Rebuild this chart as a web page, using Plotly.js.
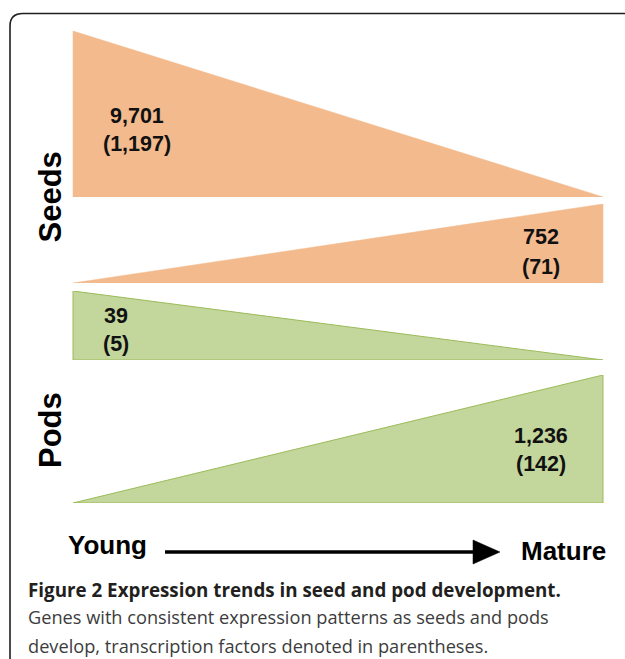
<!DOCTYPE html>
<html>
<head>
<meta charset="utf-8">
<script src="https://cdn.plot.ly/plotly-3.0.1.min.js"></script>
<style>
  html, body { margin: 0; padding: 0; background: #ffffff; }
  #chart { width: 625px; height: 659px; }
</style>
</head>
<body>
<div id="chart"></div>
<script>
// ---------------- DATA ----------------
const tissues     = ['Seeds', 'Seeds', 'Pods', 'Pods'];
const trends      = ['decreasing', 'increasing', 'decreasing', 'increasing'];
const geneCounts  = [9701, 752, 39, 1236];
const tfCounts    = [1197, 71, 5, 142];
const stages      = ['Young', 'Mature'];          // x: 0 = Young, 1 = Mature
const levelYoung  = [1, 0, 1, 0];                  // relative expression at Young
const levelMature = [0, 1, 0, 1];                  // relative expression at Mature
const tissueNames = ['Seeds', 'Pods'];
const captionTitle = 'Figure 2 Expression trends in seed and pod development.';
const captionLines = ['Genes with consistent expression patterns as seeds and pods',
                      'develop, transcription factors denoted in parentheses.'];

// ---------------- LAYOUT / STYLE ----------------
const W = 625, H = 659;
const px = x => x / W;            // pixel -> paper
const py = y => 1 - y / H;
// panel vertical extents (pixels: top, bottom)
const panelTop    = [31, 204, 291, 375];
const panelBottom = [197, 283, 360, 503];
const tissueStyle = {
  Seeds: { fill: '#F2BA8D', line: '#F2BA8D', lw: 0.5 },
  Pods:  { fill: '#C3D69B', line: '#9BBB59', lw: 1 }
};
// x axis: stage 0 at pixel 73, stage 1 at pixel 603
const x0px = 73, x1px = 603;
const span = x1px - x0px;
const xRange = [(0 - x0px) / span, (W - x0px) / span];

const traces = [];
const layout = {
  width: W, height: H,
  margin: { l: 0, r: 0, t: 0, b: 0, pad: 0 },
  paper_bgcolor: '#ffffff', plot_bgcolor: 'rgba(0,0,0,0)',
  showlegend: false,
  xaxis: { range: xRange, visible: false, fixedrange: true },
  annotations: [],
  shapes: []
};

for (let i = 0; i < geneCounts.length; i++) {
  const ax = 'yaxis' + (i === 0 ? '' : (i + 1) + '');
  const ref = 'y' + (i === 0 ? '' : (i + 1));
  layout[ax] = {
    range: [0, 1], visible: false, fixedrange: true, anchor: 'x',
    domain: [py(panelBottom[i]), py(panelTop[i])]
  };
  const st = tissueStyle[tissues[i]];
  traces.push({
    type: 'scatter', mode: 'lines',
    x: [0, 1, 1, 0, 0],
    y: [0, 0, levelMature[i], levelYoung[i], 0],
    xaxis: 'x', yaxis: ref,
    fill: 'toself', fillcolor: st.fill,
    line: { color: st.line, width: st.lw },
    hoverinfo: 'skip',
    name: tissues[i] + ' ' + trends[i]
  });
}
// pixel-space overlay axes for decorations
layout.xaxis2 = { range: [0, W], visible: false, fixedrange: true, anchor: 'y5', domain: [0, 1] };
layout.yaxis5 = { range: [H, 0], visible: false, fixedrange: true, anchor: 'x2', domain: [0, 1] };

// label positions (pixels: centre x, gene line y, tf line y)
const labelX  = [137, 540.5, 116, 541];
const labelY1 = [116, 237, 315.5, 435.5];
const labelY2 = [144, 267, 344, 463.5];
const numFont = { family: 'Liberation Sans, Arial, sans-serif', size: 21.5, color: '#111111' };
for (let i = 0; i < geneCounts.length; i++) {
  const t = (labelX[i] - x0px) / span;
  layout.annotations.push({
    xref: 'x', yref: 'paper', x: t, y: py(labelY1[i]),
    text: '<b>' + geneCounts[i].toLocaleString('en-US') + '</b>',
    showarrow: false, xanchor: 'center', yanchor: 'middle', font: numFont
  });
  layout.annotations.push({
    xref: 'x', yref: 'paper', x: t, y: py(labelY2[i]),
    text: '<b>(' + tfCounts[i].toLocaleString('en-US') + ')</b>',
    showarrow: false, xanchor: 'center', yanchor: 'middle', font: numFont
  });
}

// tissue labels (rotated)
const tissueLabelY = [197.5, 430];
const tissueFont = { family: 'Liberation Sans, Arial, sans-serif', size: 31, color: '#000000' };
tissueNames.forEach((nm, k) => {
  layout.annotations.push({
    xref: 'paper', yref: 'paper', x: px(50), y: py(tissueLabelY[k]),
    text: '<b>' + nm + '</b>', textangle: -90,
    showarrow: false, xanchor: 'center', yanchor: 'middle', font: tissueFont
  });
});

// stage labels
const stageFont = { family: 'Liberation Sans, Arial, sans-serif', size: 26, color: '#000000' };
layout.annotations.push({
  xref: 'paper', yref: 'paper', x: px(66), y: py(545),
  text: '<b>' + stages[0] + '</b>', showarrow: false, xanchor: 'left', yanchor: 'middle', font: stageFont
});
layout.annotations.push({
  xref: 'paper', yref: 'paper', x: px(519), y: py(550.5),
  text: '<b>' + stages[1] + '</b>', showarrow: false, xanchor: 'left', yanchor: 'middle', font: stageFont
});

// arrow
layout.shapes.push({
  type: 'line', xref: 'x2', yref: 'y5', x0: 165, x1: 476, y0: 552, y1: 552,
  line: { color: '#000000', width: 3.5 }
});
layout.shapes.push({
  type: 'path', xref: 'x2', yref: 'y5',
  path: 'M 473 540 L 500 552 L 473 564 Z',
  fillcolor: '#000000', line: { color: '#000000', width: 0.5 }
});

// frame (top + left border with rounded corner)
layout.shapes.push({
  type: 'path', xref: 'x2', yref: 'y5',
  path: 'M 10 665 L 10 26 Q 10 13.5 23 13.5 L 630 13.5',
  line: { color: '#231F20', width: 1.6 }
});

// caption
layout.annotations.push({
  xref: 'paper', yref: 'paper', x: px(26), y: py(590),
  text: '<b>' + captionTitle + '</b>', showarrow: false, xanchor: 'left', yanchor: 'middle',
  font: { family: 'Open Sans, sans-serif', size: 18.8, color: '#231F20' }
});
captionLines.forEach((ln, k) => {
  layout.annotations.push({
    xref: 'paper', yref: 'paper', x: px(26), y: py(617 + 29 * k),
    text: ln, showarrow: false, xanchor: 'left', yanchor: 'middle',
    font: { family: 'Open Sans, sans-serif', size: 18.2, color: '#3C3C3C' }
  });
});

// dummy trace to bind pixel-space axes
traces.push({ type: 'scatter', mode: 'markers', x: [0, W], y: [0, H], xaxis: 'x2', yaxis: 'y5',
              marker: { opacity: 0, size: 1 }, hoverinfo: 'skip' });

Plotly.newPlot('chart', traces, layout, { staticPlot: true, displayModeBar: false });
</script>
</body>
</html>
